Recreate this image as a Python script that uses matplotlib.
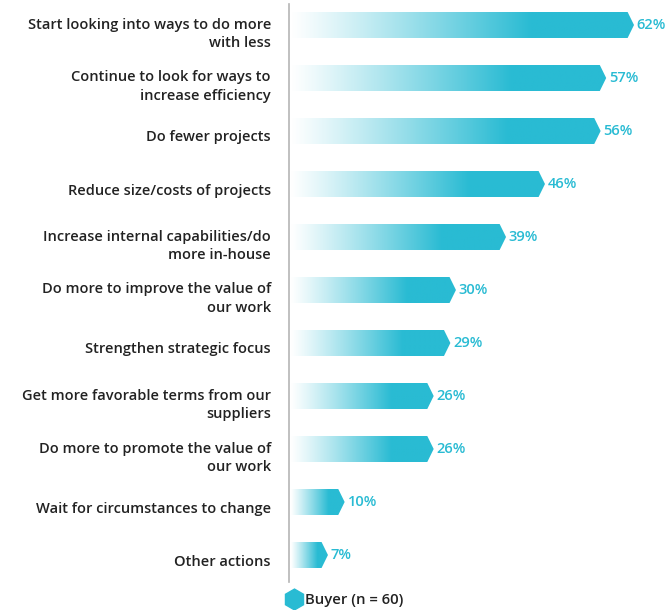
import matplotlib
matplotlib.use("Agg")
import matplotlib.pyplot as plt
import numpy as np
from matplotlib.patches import Polygon
from matplotlib.lines import Line2D
from matplotlib.colors import to_rgb
import matplotlib.transforms as mtransforms

categories = [
    "Start looking into ways to do more\nwith less",
    "Continue to look for ways to\nincrease efficiency",
    "Do fewer projects",
    "Reduce size/costs of projects",
    "Increase internal capabilities/do\nmore in-house",
    "Do more to improve the value of\nour work",
    "Strengthen strategic focus",
    "Get more favorable terms from our\nsuppliers",
    "Do more to promote the value of\nour work",
    "Wait for circumstances to change",
    "Other actions",
]
values = [62, 57, 56, 46, 39, 30, 29, 26, 26, 10, 7]
series_name = "Buyer (n = 60)"

CYAN = "#29BBD3"
TEXT = "#222222"
plt.rcParams['font.family'] = ['Open Sans', 'DejaVu Sans']

W, H = 665, 610
fig = plt.figure(figsize=(W / 100, H / 100), dpi=100)
ax_left, ax_right = 289 / W, 1.0
ax_top, ax_bot = 1 - 4 / H, 1 - 582 / H
ax = fig.add_axes([ax_left, ax_bot, ax_right - ax_left, ax_top - ax_bot])

px_per_unit = 5.55
xmax = (W - 290) / px_per_unit
ax.set_xlim(0, xmax)
n = len(values)
row = 53.0
ax.set_ylim((582 - 25) / row, -(25 - 4) / row)

bar_h = 26 / row
tip = 1.15
c = np.array(to_rgb(CYAN))
for i, v in enumerate(values):
    y0, y1 = i - bar_h / 2, i + bar_h / 2
    body = v - tip
    poly = Polygon([(0.3, y0), (body, y0), (v, i), (body, y1), (0.3, y1)],
                   closed=True, facecolor="none", edgecolor="none")
    ax.add_patch(poly)
    t = np.linspace(0, 1, 256)
    frac = np.clip(t / 0.7, 0, 1) ** 1.1
    rgb = (1 - frac)[:, None] * np.array([1, 1, 1]) + frac[:, None] * c
    img = rgb[None, :, :]
    im = ax.imshow(img, extent=(0.3, v, y1, y0), aspect="auto",
                   interpolation="bilinear", zorder=2)
    im.set_clip_path(poly)
    ax.text(v + 0.5, i, f"{v}%", va="center", ha="left", color=CYAN,
            fontsize=10.5, fontweight="semibold", zorder=3)

ax.set_yticks(range(n))
ax.set_yticklabels(categories, fontsize=10.5, fontweight="semibold", color=TEXT,
                   linespacing=1.42)
ax.tick_params(axis="y", length=0, pad=13)
off = mtransforms.ScaledTranslation(0, -5 / 100, fig.dpi_scale_trans)
for lbl in ax.get_yticklabels():
    lbl.set_transform(lbl.get_transform() + off)
ax.set_xticks([])
for s in ["top", "right", "bottom"]:
    ax.spines[s].set_visible(False)
ax.spines["left"].set_color("#b5b5b5")
ax.spines["left"].set_linewidth(1.2)

handle = Line2D([], [], marker="h", color="none", markerfacecolor=CYAN,
                markeredgecolor=CYAN, markersize=15, linestyle="none")
leg = fig.legend([handle], [series_name], loc="center",
                 bbox_to_anchor=(344 / W, 1 - 600 / H), frameon=False,
                 prop={"weight": "semibold", "size": 10.7}, handletextpad=0.15,
                 handlelength=1.2)
for t in leg.get_texts():
    t.set_color(TEXT)

fig.savefig("out.png", dpi=100)
